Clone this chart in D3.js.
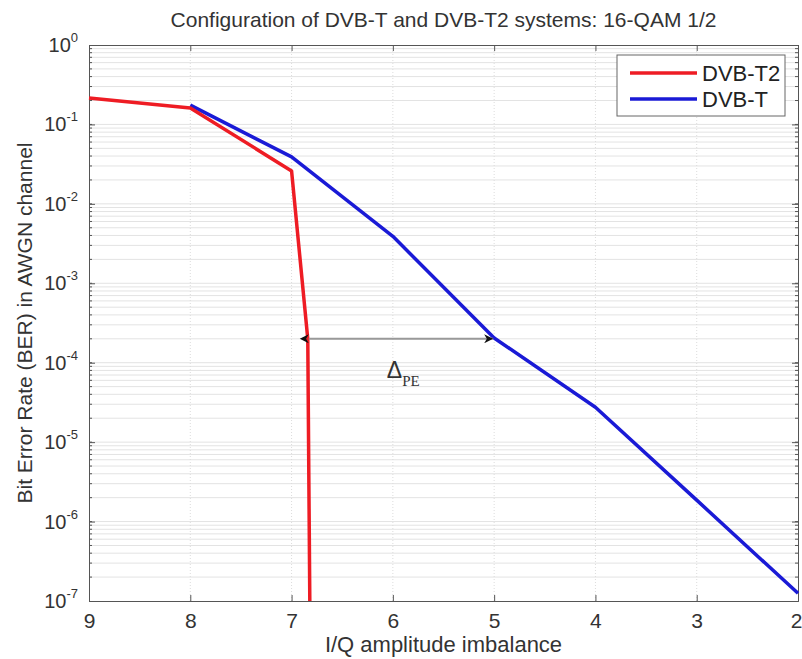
<!DOCTYPE html>
<html><head><meta charset="utf-8">
<script src="https://cdn.jsdelivr.net/npm/d3@7"></script>
<style>body{margin:0;background:#fff}svg{display:block}text{font-family:"Liberation Sans",Arial,sans-serif}</style>
</head><body><svg id="c" width="802" height="659"></svg>
<script>
const xTicks=[9,8,7,6,5,4,3,2];
const yExps=[0,-1,-2,-3,-4,-5,-6,-7];
const t2X=[9,8,7,6.84,6.82];
const t2Y=[0.215,0.161,0.026,2.0e-4,1e-7];
const tX=[8,7,6,5,4,3,2];
const tY=[0.175,0.039,0.0039,2.05e-4,2.75e-5,1.86e-6,1.25e-7];
const seriesNames=["DVB-T2","DVB-T"];
const colors=["#ee1c24","#1a1ad6"];
const arrowY=2.0e-4, arrowFrom=6.84, arrowTo=5;

const svg=d3.select("#c");
const L=89,R=798,T=45,B=601;
const x=d3.scaleLinear().domain([9,2]).range([L,R]);
const y=d3.scaleLog().domain([1e-7,1]).range([B,T]);

// grid
const g=svg.append("g");
const minor=[];
for(let e=-7;e<0;e++)for(let k=1;k<10;k++)minor.push(k*Math.pow(10,e));
g.selectAll(".mg").data(minor.filter(v=>v>1e-7&&v<1)).enter().append("line")
 .attr("x1",L).attr("x2",R).attr("y1",d=>y(d)).attr("y2",d=>y(d))
 .attr("stroke","#e3e3e3").attr("stroke-width",1);
g.selectAll(".vg").data(xTicks.slice(1,-1)).enter().append("line")
 .attr("x1",d=>x(d)).attr("x2",d=>x(d)).attr("y1",T).attr("y2",B)
 .attr("stroke","#dcdcdc").attr("stroke-dasharray","1,2");

// axes
const xa=d3.axisBottom(x).tickValues(xTicks).tickSize(-6).tickFormat(d3.format("d")).tickPadding(12);
svg.append("g").attr("transform",`translate(0,${B})`).call(xa)
 .call(s=>{s.select(".domain").attr("stroke","#555");s.selectAll("line").attr("stroke","#555");
   s.selectAll("text").attr("font-size",21).attr("fill","#333");
   s.selectAll(".tick").filter(d=>d===2).select("text").attr("text-anchor","end").attr("x",4);});
svg.append("g").attr("transform",`translate(0,${T})`).call(d3.axisTop(x).tickValues(xTicks).tickSize(-6).tickFormat(""))
 .call(s=>{s.select(".domain").attr("stroke","#555");s.selectAll("line").attr("stroke","#555");});
const ya=d3.axisLeft(y).tickValues(yExps.map(e=>Math.pow(10,e))).tickSize(-6).tickFormat("");
svg.append("g").attr("transform",`translate(${L},0)`).call(ya)
 .call(s=>{s.select(".domain").attr("stroke","#555");s.selectAll("line").attr("stroke","#555");});
svg.append("g").attr("transform",`translate(${R},0)`).call(d3.axisRight(y).tickValues(yExps.map(e=>Math.pow(10,e))).tickSize(-6).tickFormat(""))
 .call(s=>{s.select(".domain").attr("stroke","#555");s.selectAll("line").attr("stroke","#555");});
// minor ticks
[L,R].forEach(xx=>{
 svg.selectAll(null).data(minor.filter(v=>v>1e-7&&v<1)).enter().append("line")
  .attr("x1",xx).attr("x2",xx===L?xx+3:xx-3).attr("y1",d=>y(d)).attr("y2",d=>y(d)).attr("stroke","#555");
});
// y tick labels
const yl=svg.append("g");
yExps.forEach(e=>{
 const t=yl.append("text").attr("x",L-11).attr("y",y(Math.pow(10,e))+7).attr("text-anchor","end").attr("font-size",20).attr("fill","#333");
 t.append("tspan").text("10");
 t.append("tspan").attr("dy",-10).attr("font-size",13).text(e);
});

// lines
const line=d3.line().x(d=>x(d[0])).y(d=>y(d[1]));
const data=[d3.zip(t2X,t2Y),d3.zip(tX,tY)];
svg.append("g").selectAll("path").data([data[1],data[0]]).enter().append("path")
 .attr("d",line).attr("fill","none").attr("stroke",(d,i)=>[colors[1],colors[0]][i]).attr("stroke-width",3.5).attr("stroke-linejoin","round");

// arrow annotation
const defs=svg.append("defs");
["s","e"].forEach(k=>{
 defs.append("marker").attr("id","m"+k).attr("viewBox","0 0 10 10").attr("refX",k==="e"?10:0).attr("refY",5)
  .attr("markerWidth",14).attr("markerHeight",9).attr("markerUnits","userSpaceOnUse").attr("orient","auto-start-reverse")
  .append("path").attr("d","M0,0 L10,5 L0,10 L3,5 Z").attr("fill","#111");
});
svg.append("line").attr("x1",x(arrowFrom)+1).attr("x2",x(arrowTo)-1).attr("y1",y(arrowY)).attr("y2",y(arrowY))
 .attr("stroke","#999").attr("stroke-width",2).attr("marker-start","url(#ms)").attr("marker-end","url(#me)");
const dt=svg.append("text").attr("x",x(6.06)).attr("y",y(arrowY)+39).attr("font-family","'Liberation Serif',serif").attr("font-size",23).attr("fill","#333");
dt.append("tspan").text("Δ");
dt.append("tspan").attr("dy",8).attr("font-size",15).attr("style","font-family:'Liberation Serif',serif").text("PE");

// legend
const lg=svg.append("g");
lg.append("rect").attr("x",617).attr("y",55).attr("width",168).attr("height",61).attr("fill","#fff").attr("stroke","#666");
seriesNames.forEach((n,i)=>{
 const yy=73+i*26;
 lg.append("line").attr("x1",630).attr("x2",697).attr("y1",yy).attr("y2",yy).attr("stroke",colors[i]).attr("stroke-width",3.5);
 lg.append("text").attr("x",702).attr("y",yy+8).attr("font-size",22).attr("fill","#222").text(n);
});

// titles
svg.append("text").attr("x",(L+R)/2).attr("y",27).attr("text-anchor","middle").attr("font-size",21).attr("fill","#333")
 .text("Configuration of DVB-T and DVB-T2 systems: 16-QAM 1/2");
svg.append("text").attr("x",(L+R)/2).attr("y",652).attr("text-anchor","middle").attr("font-size",22).attr("fill","#333")
 .text("I/Q amplitude imbalance");
svg.append("text").attr("transform",`translate(32,${(T+B)/2}) rotate(-90)`).attr("text-anchor","middle").attr("font-size",21).attr("fill","#333")
 .text("Bit Error Rate (BER) in AWGN channel");
</script></body></html>
